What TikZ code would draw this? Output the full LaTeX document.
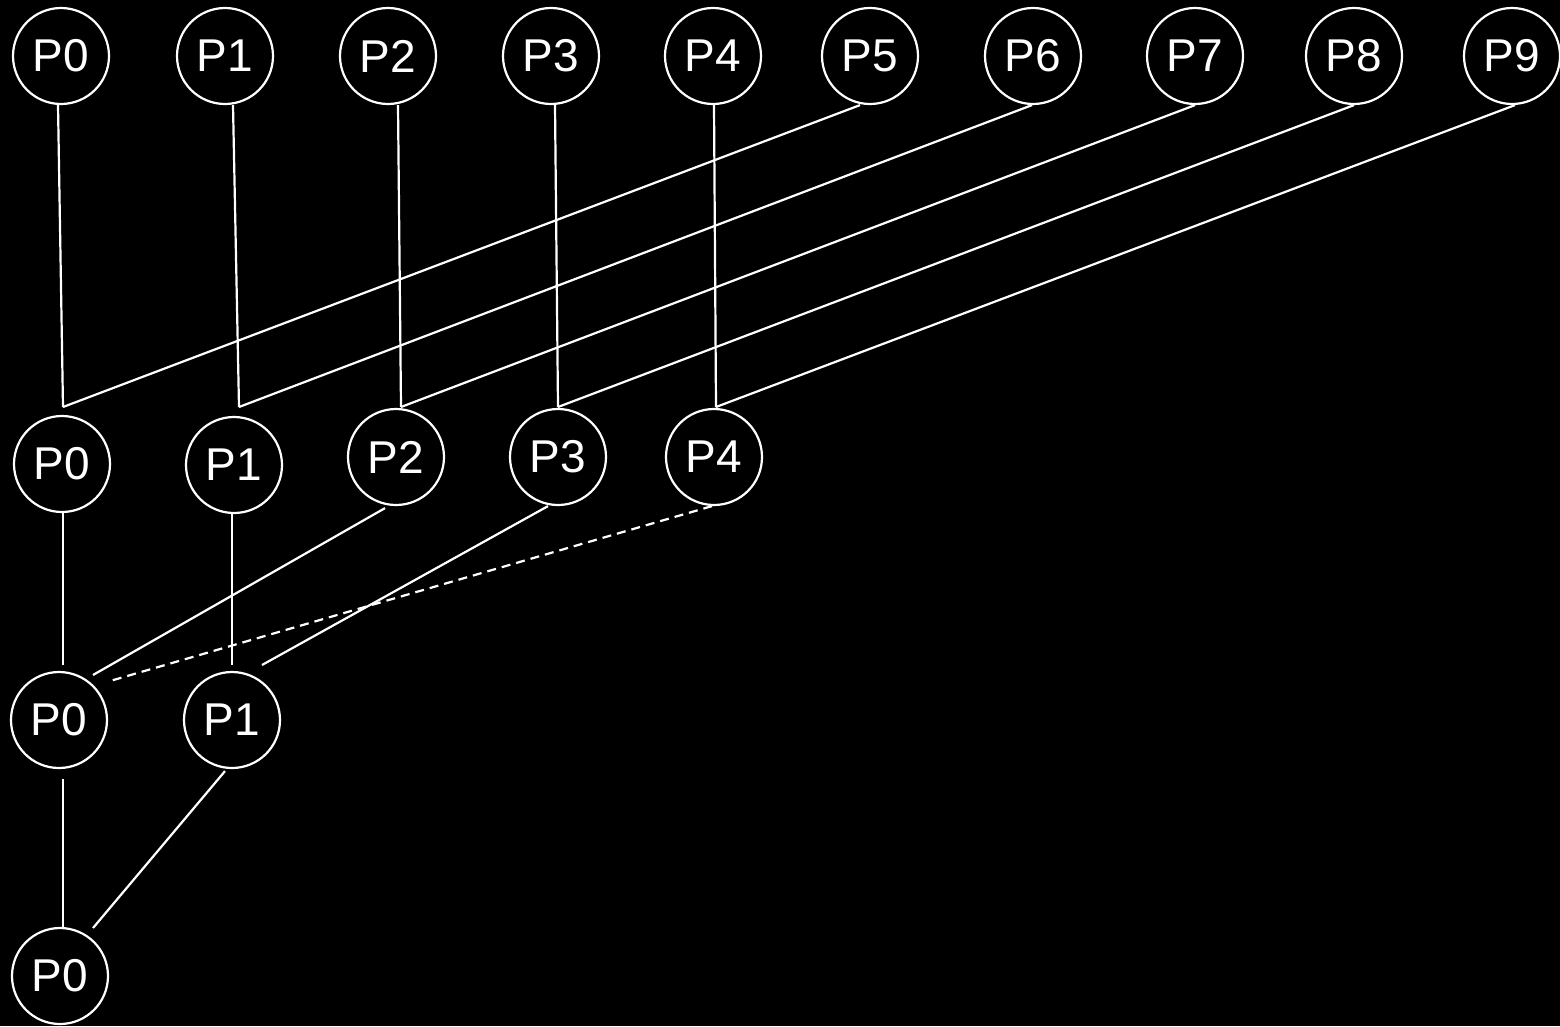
\documentclass[tikz,border=0pt]{standalone}
\usepackage{fontspec}
\setmainfont{Liberation Sans}
\begin{document}
\begin{tikzpicture}[x=1pt,y=-1pt,
  proc/.style={circle,draw=white,line width=2.2pt,minimum size=96pt,inner sep=0pt,
    text=white,font=\fontsize{46}{46}\selectfont},
  link/.style={draw=white,line width=2.2pt},
  dlink/.style={link,dash pattern=on 9pt off 6pt}]
\fill[black] (0,0) rectangle (1560,1026);
\useasboundingbox (0,0) rectangle (1560,1026);
% top row
\foreach \i/\x in {0/61,1/225,2/388,3/551,4/713,5/870,6/1033,7/1195,8/1354,9/1512}
  \node[proc] (a\i) at (\x,56) {P\i};
% second row
\node[proc] (b0) at (62,464) {P0};
\node[proc] (b1) at (234,465) {P1};
\node[proc] (b2) at (396,457) {P2};
\node[proc] (b3) at (558,457) {P3};
\node[proc] (b4) at (714,457) {P4};
% join points above second row
\coordinate (j0) at (63,407);
\coordinate (j1) at (239,407);
\coordinate (j2) at (401,407);
\coordinate (j3) at (558,407);
\coordinate (j4) at (716,407);
% third row
\node[proc] (c0) at (59,720) {P0};
\node[proc] (c1) at (232,720) {P1};
% bottom
\node[proc] (d0) at (60,976) {P0};
% top edges
\draw[link] ([xshift=-3pt]a0.south) -- (j0);
\draw[link] ([xshift=8pt]a1.south) -- (j1);
\draw[link] ([xshift=10pt]a2.south) -- (j2);
\draw[link] ([xshift=4pt]a3.south) -- (j3);
\draw[link] ([xshift=1pt]a4.south) -- (j4);
\draw[link] ([xshift=-10pt]a5.south) -- (j0);
\draw[link] ([xshift=-1pt]a6.south) -- (j1);
\draw[link] (a7.south) -- (j2);
\draw[link] (a8.south) -- (j3);
\draw[link] ([xshift=3pt]a9.south) -- (j4);
% second to third
\coordinate (k0) at (63,665);
\coordinate (k1) at (232,665);
\coordinate (k2) at (93,675);
\coordinate (k3) at (262,665);
\coordinate (k4) at (110,681);
\draw[link] ([xshift=1pt]b0.south) -- (k0);
\draw[link] ([xshift=-2pt]b1.south) -- (k1);
\draw[link] ([xshift=-11pt,yshift=-2pt]b2.south) -- (k2);
\draw[link] ([xshift=-10pt]b3.south) -- (k3);
\draw[dlink] ([xshift=-2pt]b4.south) -- (k4);
% third to bottom
\coordinate (m0) at (63,928);
\coordinate (m1) at (93,928);
\draw[link] ([xshift=4pt,yshift=-10pt]c0.south) -- (m0);
\draw[link] ([xshift=-7pt,yshift=-2pt]c1.south) -- (m1);
\end{tikzpicture}
\end{document}
